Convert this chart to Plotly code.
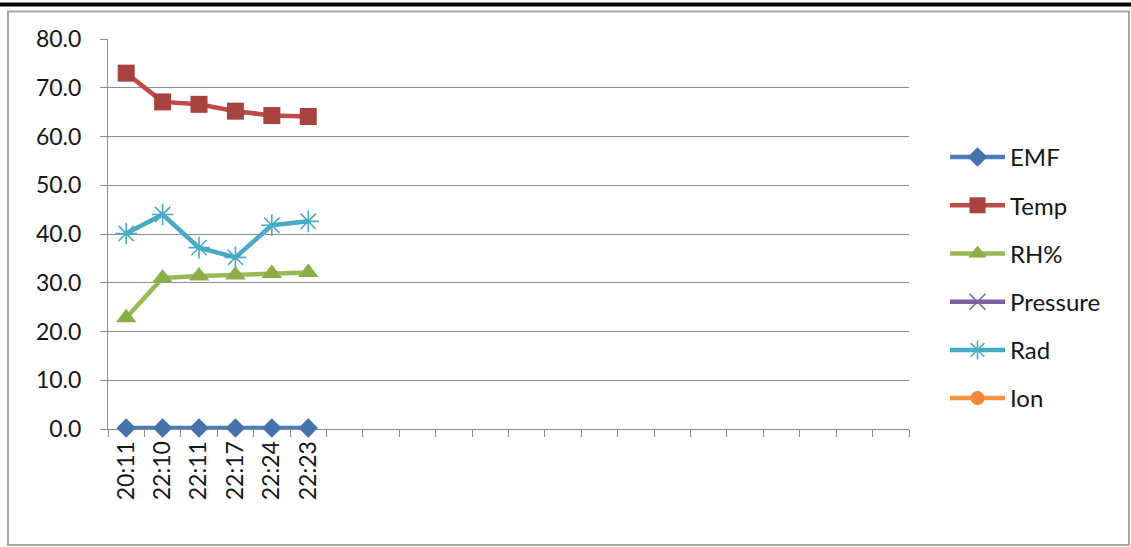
import plotly.graph_objects as go

# ---- data ----
times = ["20:11", "22:10", "22:11", "22:17", "22:24", "22:23"]
n_empty_categories = 16
emf = [0.2, 0.2, 0.2, 0.2, 0.2, 0.2]
temp = [73.0, 67.1, 66.6, 65.2, 64.3, 64.1]
rh = [22.8, 31.0, 31.4, 31.6, 31.9, 32.1]
pressure = [None, None, None, None, None, None]
rad = [40.1, 44.0, 37.2, 35.2, 41.8, 42.6]
ion = [None, None, None, None, None, None]
y_ticks = [0, 10, 20, 30, 40, 50, 60, 70, 80]

categories = times + [" " * (i + 1) for i in range(n_empty_categories)]

FONT = "Lato, 'Liberation Sans', sans-serif"
TEXT = "#151515"
GRID = "#8c8c8c"

series = [
    ("EMF", emf, "#4A7EBB", "#4572AA", "diamond", 15),
    ("Temp", temp, "#BE4B48", "#A8423F", "square", 17),
    ("RH%", rh, "#98B954", "#8AAE48", "triangle-up", 18),
    ("Pressure", pressure, "#7D60A0", "#8064A2", "x-thin-open", 16),
    ("Rad", rad, "#46AAC5", "#4BACC6", "asterisk-open", 18),
    ("Ion", ion, "#F69240", "#F08A3A", "circle", 14),
]

fig = go.Figure()
for name, vals, lc, mc, sym, sz in series:
    open_sym = sym.endswith("open")
    fig.add_trace(go.Scatter(
        x=times, y=vals, name=name, mode="lines+markers",
        legendgroup=name,
        line=dict(color=lc, width=4.5),
        marker=dict(symbol=sym, size=sz, color=mc,
                    line=dict(color=mc, width=1.6 if open_sym else 0)),
        cliponaxis=False,
    ))

W0, W1 = 108, 909
T0, B0 = 39, 429
pw, ph = W1 - W0, B0 - T0

def px_x(p):
    return (p - W0) / pw

def px_y(p):
    return (B0 - p) / ph

fig.update_layout(
    width=1131, height=547,
    margin=dict(l=W0, r=1131 - W1, t=T0, b=547 - B0, pad=0),
    paper_bgcolor="white", plot_bgcolor="white",
    font=dict(family=FONT, size=23, color=TEXT),
    showlegend=True,
    legend=dict(
        x=px_x(945), xanchor="left", y=px_y(135), yanchor="top",
        font=dict(family=FONT, size=24, color=TEXT),
        bgcolor="rgba(0,0,0,0)", tracegroupgap=14, itemwidth=55,
        traceorder="grouped",
    ),
    xaxis=dict(
        type="category", categoryorder="array", categoryarray=categories,
        range=[-0.5, len(categories) - 0.5],
        tickson="boundaries", ticks="outside", ticklen=7, tickcolor=GRID,
        tickangle=-90, showgrid=False, showline=True, linecolor=GRID,
        linewidth=1, zeroline=False, layer="below traces",
        tickfont=dict(family=FONT, size=23, color=TEXT),
        ticklabelstandoff=2,
    ),
    yaxis=dict(
        range=[0, 80], tickvals=y_ticks, tickformat=".1f",
        ticks="outside", ticklen=7, tickcolor=GRID,
        showgrid=True, gridcolor=GRID, gridwidth=1,
        showline=True, linecolor=GRID, linewidth=1, zeroline=False,
        layer="below traces",
        tickfont=dict(family=FONT, size=23, color=TEXT),
        ticklabelstandoff=14,
    ),
    shapes=[
        dict(type="rect", xref="paper", yref="paper",
             x0=px_x(8), x1=px_x(1129), y0=px_y(545), y1=px_y(11.5),
             line=dict(color="#a6a6a6", width=2), layer="below"),
        dict(type="line", xref="paper", yref="paper",
             x0=px_x(0), x1=px_x(1131), y0=px_y(4.5), y1=px_y(4.5),
             line=dict(color="#000000", width=4), layer="above"),
    ],
)

fig.write_html(
    "out.html",
    config={"displayModeBar": False},
    post_script="document.body.style.margin='0';document.body.style.overflow='hidden';",
)
